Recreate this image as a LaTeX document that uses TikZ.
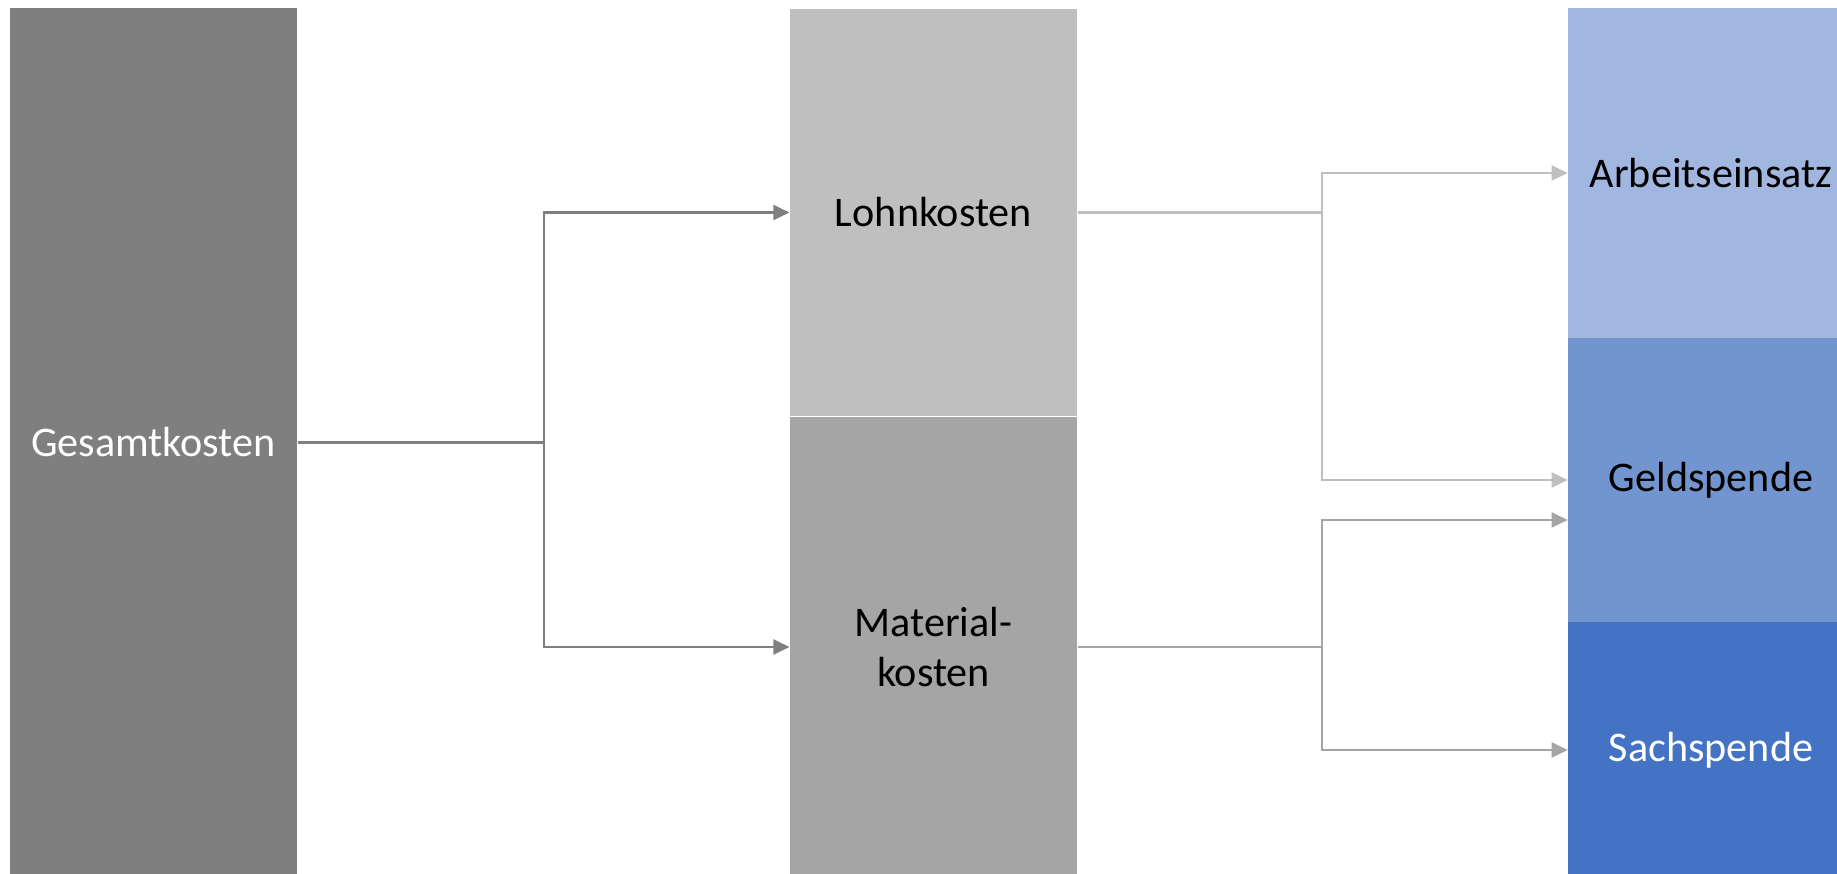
\documentclass[tikz,border=0pt]{standalone}
\usepackage{fontspec}
\setmainfont{Carlito}
\usetikzlibrary{arrows.meta}

\definecolor{gesamtgray}{HTML}{7F7F7F}
\definecolor{lohngray}{HTML}{BFBFBF}
\definecolor{materialgray}{HTML}{A5A5A5}
\definecolor{arbeitblue}{HTML}{A2B7E0}
\definecolor{geldblue}{HTML}{7294CF}
\definecolor{sachblue}{HTML}{4472C4}

\begin{document}
\begin{tikzpicture}[
    x=0.02cm, y=-0.02cm,
    costbox/.style={rectangle, inner sep=0pt, align=center, minimum width=5.75cm,
      font=\fontsize{24}{28.5}\selectfont},
    >={Triangle[length=0.32cm, width=0.30cm]},
    linkedge/.style={->, line width=1.15pt},
]

\clip (0,0) rectangle (1837,874);

% Gesamt
\node[costbox, fill=gesamtgray, text=white, minimum height=17.4cm] (gesamt) at (153.5,442.5) {Gesamtkosten};

% Lohn / Material
\node[costbox, fill=lohngray, minimum height=8.14cm] (lohn) at (933.5,212.5) {Lohnkosten};
\node[costbox, fill=materialgray, minimum height=9.22cm] (material) at (933.5,647) {Material-\\kosten};

% Spenden
\node[costbox, fill=arbeitblue, minimum width=5.72cm, minimum height=6.6cm] (arbeit) at (1711,173) {Arbeitseinsatz};
\node[costbox, fill=geldblue, minimum width=5.72cm, minimum height=5.68cm] (geld) at (1711,480) {Geldspende};
\node[costbox, fill=sachblue, text=white, minimum width=5.72cm, minimum height=5.12cm] (sach) at (1711,750) {Sachspende};

% Verbindungen
\draw[linkedge, gesamtgray] (gesamt.east) -- ++(246,0) |- (lohn.west);
\draw[linkedge, gesamtgray] (gesamt.east) -- ++(246,0) |- (material.west);

\draw[linkedge, lohngray] (lohn.east) -- ++(244.5,0) |- (arbeit.west);
\draw[linkedge, lohngray] (lohn.east) -- ++(244.5,0) |- (geld.west);

\draw[linkedge, materialgray] (material.east) -- ++(244.5,0) |- ([yshift=-0.8cm]geld.west);
\draw[linkedge, materialgray] (material.east) -- ++(244.5,0) |- (sach.west);

\end{tikzpicture}
\end{document}
